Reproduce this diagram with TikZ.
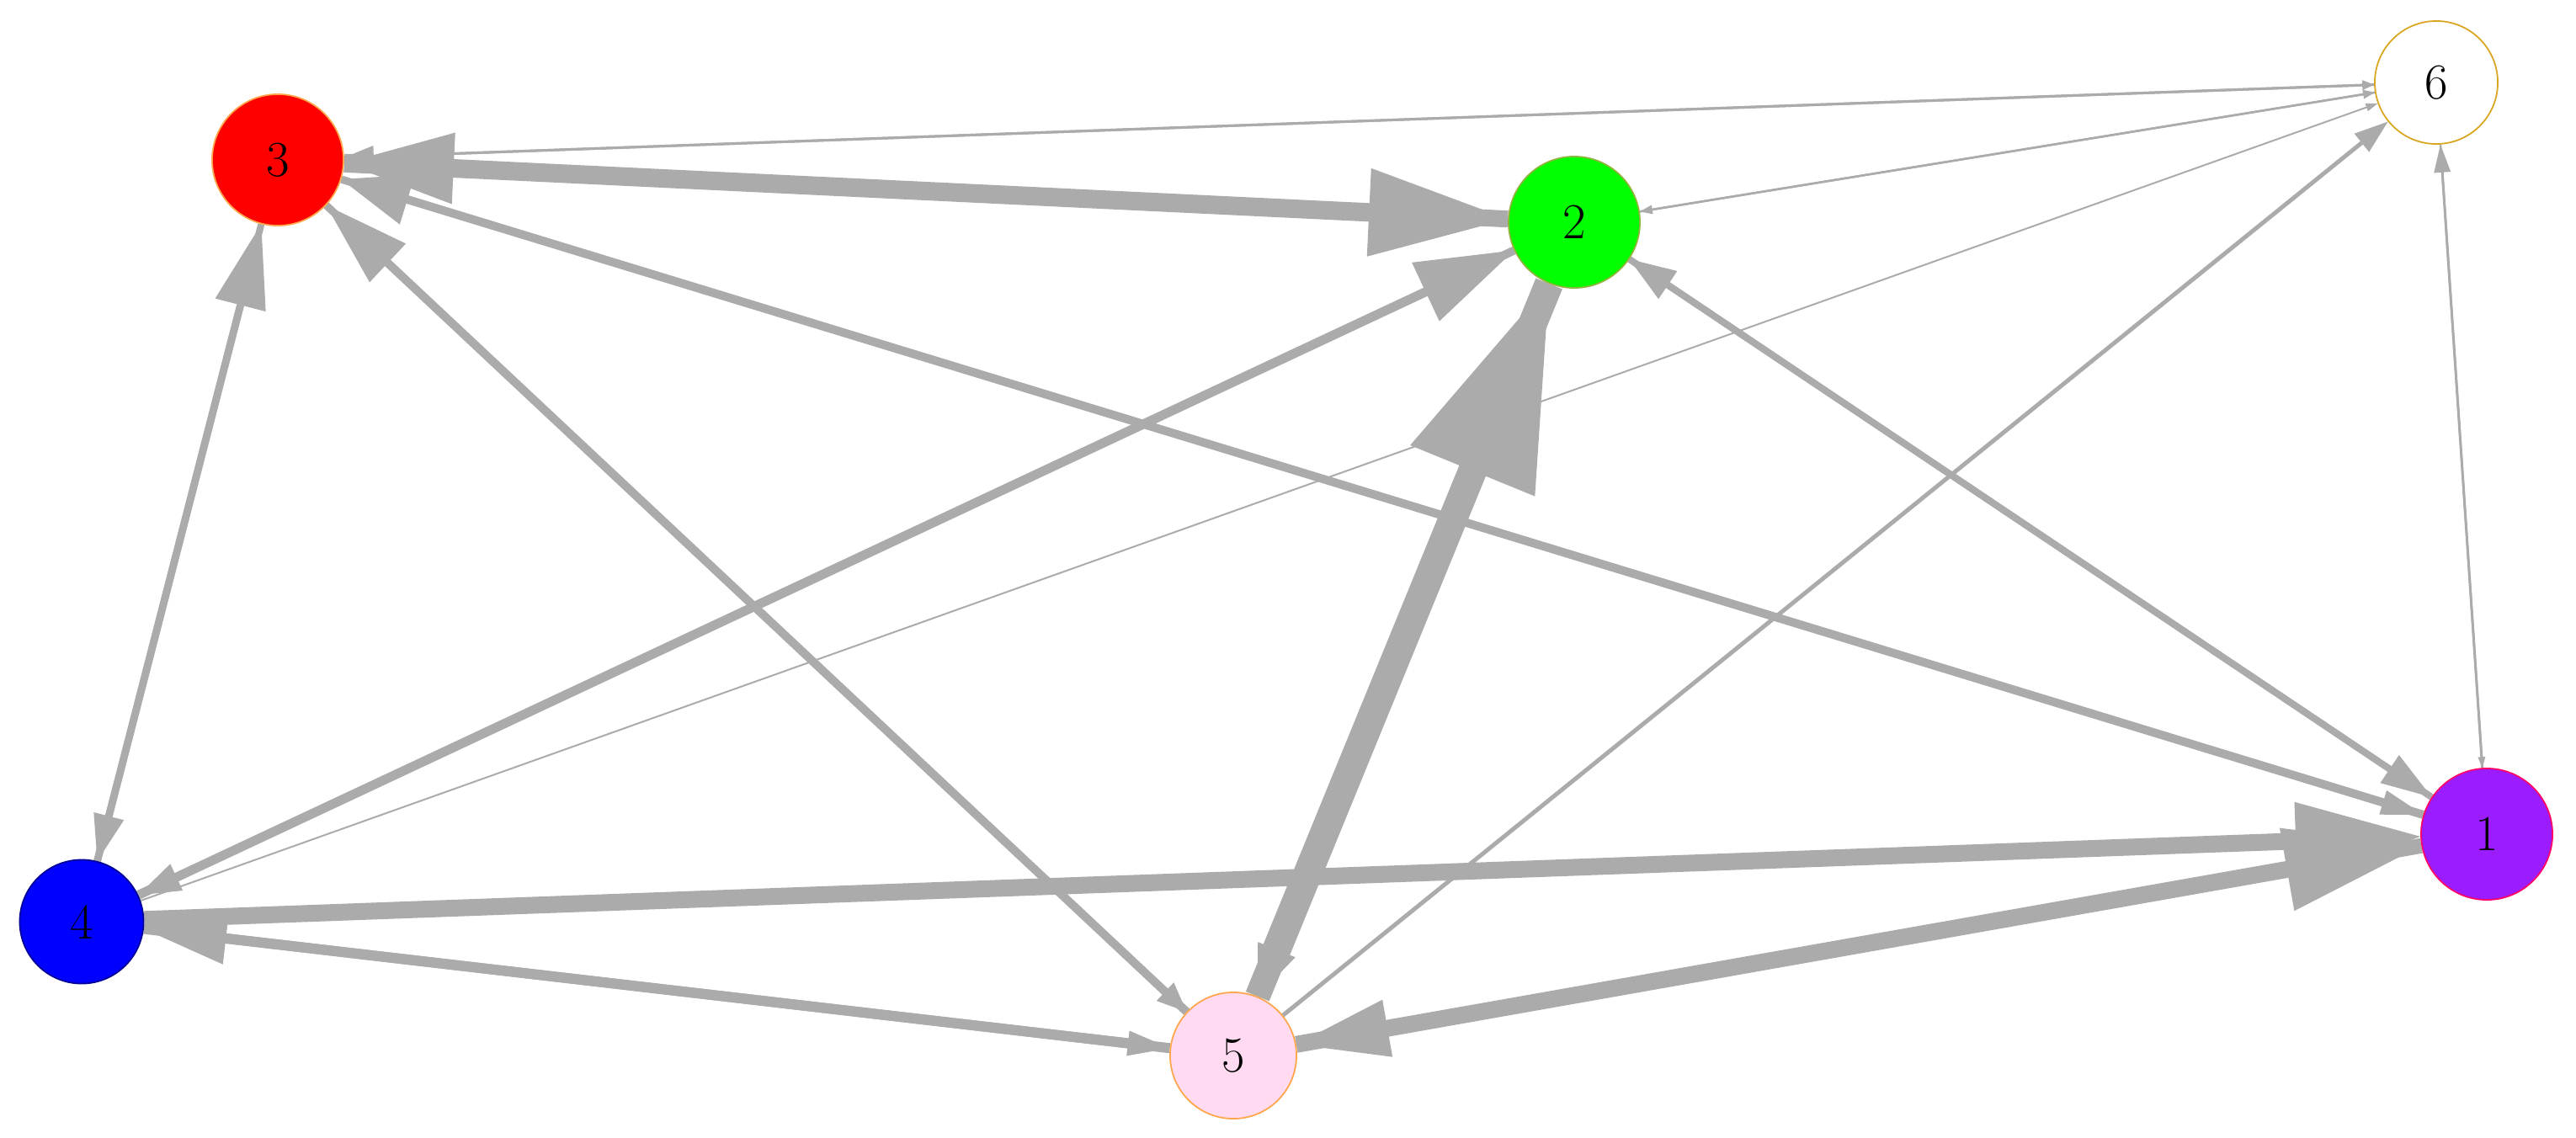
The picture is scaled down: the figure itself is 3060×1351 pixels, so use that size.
\documentclass[tikz,border=0pt]{standalone}
\usepackage{tikz}
\usetikzlibrary{arrows.meta, backgrounds}

\definecolor{edgegray}{HTML}{ABABAB}
\definecolor{nodepink}{HTML}{FFDAF0}
\definecolor{nodepurple}{HTML}{9B1DFF}
\definecolor{nodegreen}{HTML}{00FF00}
\definecolor{gold}{HTML}{DAA520}

\begin{document}
\begin{tikzpicture}[
    x=0.01cm, y=-0.01cm,
    vertex/.style={circle, draw, line width=0.5pt, inner sep=0pt, minimum size=1.52cm, font=\fontsize{17}{17}\selectfont},
    flow/.style n args={3}{draw=edgegray, line width=#1, -{Triangle[length=#2, width=#3, line width=0pt]}}
]

\useasboundingbox (0,0) rectangle (3060,1351);

% Nodes
\node[vertex, fill=red, draw=orange!70, minimum size=1.56cm] (n3) at (330,190) {3};
\node[vertex, fill=nodegreen, draw=yellow!60!green!80!black, minimum size=1.56cm] (n2) at (1870,264) {2};
\node[vertex, fill=white, draw=gold, minimum size=1.46cm] (n6) at (2894,98) {6};
\node[vertex, fill=blue, draw=blue!60!black, minimum size=1.47cm] (n4) at (97,1095) {4};
\node[vertex, fill=nodepink, draw=orange!70, minimum size=1.50cm] (n5) at (1465,1254) {5};
\node[vertex, fill=nodepurple, draw=red!60!magenta, minimum size=1.56cm] (n1) at (2954,991) {1};

% Edges
\begin{scope}[on background layer]
% thin ones round 6
\draw[flow={0.3mm}{3.5mm}{2.6mm}] (n6) -- (n3);
\draw[flow={0.3mm}{1.4mm}{1.2mm}] (n3) -- (n6);
\draw[flow={0.25mm}{1.4mm}{1.1mm}] (n2) -- (n6);
\draw[flow={0.25mm}{1.5mm}{1.1mm}] (n6) -- (n2);
\draw[flow={0.2mm}{1.4mm}{1.0mm}] (n4) -- (n6);
\draw[flow={0.5mm}{4mm}{2.8mm}] (n5) -- (n6);
\draw[flow={0.3mm}{3.3mm}{2.0mm}] (n1) -- (n6);
\draw[flow={0.25mm}{1.3mm}{0.9mm}] (n6) -- (n1);

% middle weights
\draw[flow={0.8mm}{5.5mm}{3.7mm}] (n3) -- (n4);
\draw[flow={0.9mm}{9.9mm}{6.2mm}] (n4) -- (n3);
\draw[flow={0.9mm}{3.5mm}{3.0mm}] (n3) -- (n5);
\draw[flow={1.0mm}{10mm}{6.3mm}] (n5) -- (n3);
\draw[flow={0.9mm}{5mm}{3mm}] (n3) -- (n1);
\draw[flow={1.0mm}{8.2mm}{6.2mm}] (n1) -- (n3);
\draw[flow={1.0mm}{5mm}{3.5mm}] (n2) -- (n4);
\draw[flow={1.1mm}{11.6mm}{7.7mm}] (n4) -- (n2);
\draw[flow={0.8mm}{6mm}{4mm}] (n2) -- (n1);
\draw[flow={0.8mm}{5.5mm}{4mm}] (n1) -- (n2);
\draw[flow={1.2mm}{5mm}{3mm}] (n4) -- (n5);
\draw[flow={1.2mm}{9.8mm}{6.2mm}] (n5) -- (n4);

% heavy ones
\draw[flow={2.0mm}{14.8mm}{9.3mm}] (n4) -- (n1);
\draw[flow={2.0mm}{16.2mm}{10mm}] (n5) -- (n1);
\draw[flow={1.8mm}{11mm}{6.9mm}] (n1) -- (n5);
\draw[flow={2.0mm}{13mm}{8.5mm}] (n2) -- (n3);
\draw[flow={2.2mm}{16.5mm}{10.5mm}] (n3) -- (n2);
\draw[flow={3.0mm}{24mm}{16mm}] (n5) -- (n2);
\draw[flow={3.4mm}{6mm}{4.8mm}] (n2) -- (n5);
\end{scope}

\end{tikzpicture}
\end{document}
